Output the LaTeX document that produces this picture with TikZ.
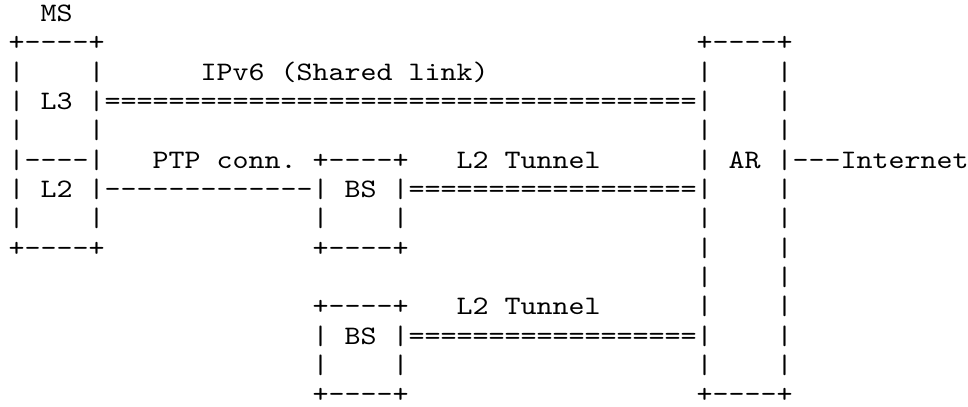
\documentclass[tikz,border=0pt]{standalone}
\usepackage{fontspec}
\newfontfamily\asciifont{lmmono10-regular.otf}[FakeStretch=1.143,WordSpace={1,0,0}]
\tikzset{ascii/.style={anchor=base west, inner sep=0pt, font=\asciifont\fontsize{10pt}{11pt}\selectfont}}

\begin{document}
\begin{tikzpicture}[x=6pt, y=-11pt]

    \useasboundingbox (0pt,0pt) rectangle (363pt,-152.25pt);
    \begin{scope}[shift={(3pt,2.9pt)}]

    % Mobile station (MS)
    \node[ascii] (ms) at (2,1) {MS};
    \node[ascii] (mstop) at (0,2) {+----+};
    \node[ascii] (ms3) at (0,3) {|~~~~|};
    \node[ascii] (msl3) at (0,4) {| L3 |};
    \node[ascii] (ms5) at (0,5) {|~~~~|};
    \node[ascii] (mssplit) at (0,6) {|----|};
    \node[ascii] (msl2) at (0,7) {| L2 |};
    \node[ascii] (ms8) at (0,8) {|~~~~|};
    \node[ascii] (msbot) at (0,9) {+----+};

    % Shared IPv6 link
    \node[ascii] (ipv6) at (12,3) {IPv6 (Shared link)};
    \node[ascii] (shared) at (6,4) {=====================================};

    % PTP connection
    \node[ascii] (ptp) at (9,6) {PTP conn.};
    \node[ascii] (ptpline) at (6,7) {-------------};

    % Base stations and L2 tunnels
    \foreach \b/\r in {1/6, 2/11} {
        \node[ascii] (bs\b top) at (19,\r) {+----+};
        \node[ascii] (bs\b) at (19,\r+1) {| BS |};
        \node[ascii] (bs\b side) at (19,\r+2) {|~~~~|};
        \node[ascii] (bs\b bot) at (19,\r+3) {+----+};
        \node[ascii] (tun\b) at (28,\r) {L2 Tunnel};
        \node[ascii] (tun\b line) at (25,\r+1) {==================};
    }

    % Access router (AR)
    \node[ascii] (artop) at (43,2) {+----+};
    \foreach \r in {3,4,5,7,8,9,10,11,12,13} {
        \node[ascii] (ar\r) at (43,\r) {|~~~~|};
    }
    \node[ascii] (ar) at (43,6) {| AR |};
    \node[ascii] (arbot) at (43,14) {+----+};

    % Uplink
    \node[ascii] (inet) at (49,6) {---Internet};

    \end{scope}
\end{tikzpicture}
\end{document}
